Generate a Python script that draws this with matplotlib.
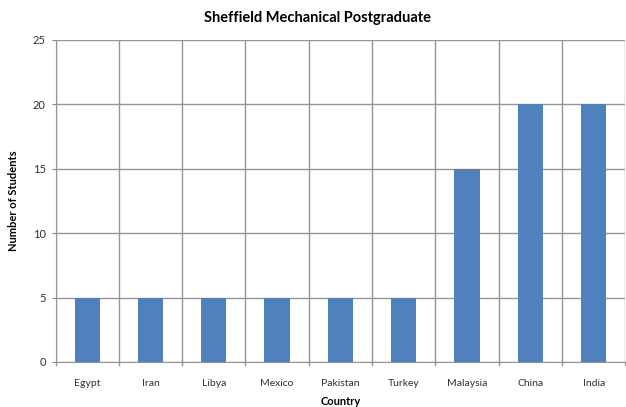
import matplotlib.pyplot as plt

countries = ["Egypt", "Iran", "Libya", "Mexico", "Pakistan", "Turkey", "Malaysia", "China", "India"]
students = [5, 5, 5, 5, 5, 5, 15, 20, 20]
y_ticks = [0, 5, 10, 15, 20, 25]

plt.rcParams['font.family'] = ['Lato', 'DejaVu Sans']

fig = plt.figure(figsize=(6.26, 4.07), dpi=100)
ax = fig.add_axes([55.5 / 626, 45 / 407, 570 / 626, 322 / 407])

x = list(range(len(countries)))
ax.bar(x, students, width=0.4, color="#4F81BD", zorder=3)

ax.set_xlim(-0.5, len(countries) - 0.5)
ax.set_ylim(0, 25)
ax.set_yticks(y_ticks)
ax.set_xticks(x)
ax.set_xticklabels(countries, fontsize=7.5, color="#303030")
ax.tick_params(axis='y', labelsize=8, length=3, color="#868686", pad=4, labelcolor="#303030")
ax.tick_params(axis='x', length=0, pad=12)

# category separators (vertical gridlines + ticks below the axis)
for b in [i - 0.5 for i in range(len(countries) + 1)]:
    ax.axvline(b, color="#969696", lw=1, zorder=1)
    ax.plot([b, b], [0, -0.25], color="#969696", lw=1, clip_on=False)
ax.yaxis.grid(True, color="#969696", lw=1, zorder=1)

for s in ax.spines.values():
    s.set_visible(False)
ax.spines['left'].set_visible(True)
ax.spines['left'].set_color("#969696")
ax.spines['bottom'].set_visible(True)
ax.spines['bottom'].set_color("#969696")

fig.text(317 / 626, 1 - 18 / 407, "Sheffield Mechanical Postgraduate", fontsize=10.5,
         fontweight="bold", ha="center", va="center")
ax.set_ylabel("Number of Students", fontsize=8, fontweight="bold", labelpad=10)
ax.set_xlabel("Country", fontsize=8, fontweight="bold", labelpad=6)

fig.savefig("out.png", dpi=100)
